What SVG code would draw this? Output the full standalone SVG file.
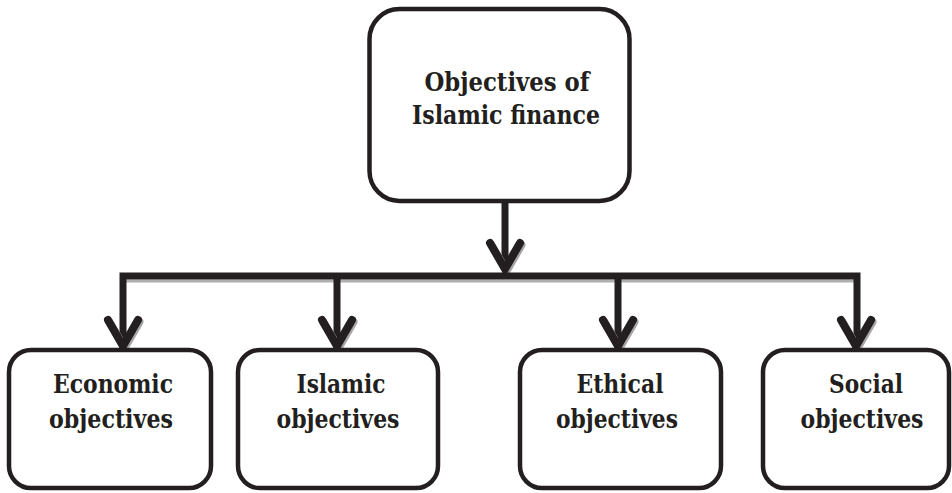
<svg xmlns="http://www.w3.org/2000/svg" width="952" height="493" viewBox="0 0 952 493">
<style>
.box{fill:#fff;stroke:#231f20;stroke-width:4.5}
.t{font-family:'DejaVu Serif',serif;font-weight:bold;font-size:26px;fill:#231f20;text-anchor:middle}
.ln{fill:none;stroke:#231f20;stroke-width:7}
.ch{fill:none;stroke:#231f20;stroke-width:8;stroke-linecap:round;stroke-linejoin:miter}
.sh{fill:none;stroke:#a7a5a6;stroke-width:8;stroke-linecap:round}
.shl{fill:none;stroke:#b0aeaf;stroke-width:3}
</style>
<rect width="952" height="493" fill="#fff"/>
<g id="connectors">
  <line class="shl" x1="125" y1="281" x2="855" y2="281"/>
  <line class="ln" x1="505" y1="203" x2="505" y2="270"/>
  <polyline class="sh" points="491.5,245 506.5,271 521.5,245"/>
  <polyline class="ch" points="490,243 505,269 520,243"/>
  <polyline class="ln" points="123,348 123,276 857,276 857,348"/>
  <line class="ln" x1="337" y1="276" x2="337" y2="348"/>
  <line class="ln" x1="618" y1="276" x2="618" y2="348"/>
  <polyline class="sh" points="109.5,322 124.5,348 139.5,322"/>
  <polyline class="ch" points="108,320 123,346 138,320"/>
  <polyline class="sh" points="323.5,322 338.5,348 353.5,322"/>
  <polyline class="ch" points="322,320 337,346 352,320"/>
  <polyline class="sh" points="604.5,322 619.5,348 634.5,322"/>
  <polyline class="ch" points="603,320 618,346 633,320"/>
  <polyline class="sh" points="842.5,322 857.5,348 872.5,322"/>
  <polyline class="ch" points="841,320 856,346 871,320"/>
</g>
<g id="root">
  <rect class="box" x="369.5" y="9" width="260" height="192" rx="30"/>
  <text class="t" x="507" y="91" textLength="165" lengthAdjust="spacingAndGlyphs">Objectives of</text>
  <text class="t" x="506" y="124" textLength="188" lengthAdjust="spacingAndGlyphs">Islamic finance</text>
</g>
<g id="economic">
  <rect class="box" x="9" y="350" width="202" height="138" rx="22"/>
  <text class="t" x="113" y="393" textLength="120" lengthAdjust="spacingAndGlyphs">Economic</text>
  <text class="t" x="111" y="428" textLength="124" lengthAdjust="spacingAndGlyphs">objectives</text>
</g>
<g id="islamic">
  <rect class="box" x="238" y="350" width="200" height="138" rx="22"/>
  <text class="t" x="341" y="393" textLength="89" lengthAdjust="spacingAndGlyphs">Islamic</text>
  <text class="t" x="338" y="428" textLength="123" lengthAdjust="spacingAndGlyphs">objectives</text>
</g>
<g id="ethical">
  <rect class="box" x="520" y="350" width="201" height="138" rx="22"/>
  <text class="t" x="620" y="393" textLength="87" lengthAdjust="spacingAndGlyphs">Ethical</text>
  <text class="t" x="617" y="428" textLength="122" lengthAdjust="spacingAndGlyphs">objectives</text>
</g>
<g id="social">
  <rect class="box" x="763" y="350" width="186" height="138" rx="22"/>
  <text class="t" x="866" y="393" textLength="74" lengthAdjust="spacingAndGlyphs">Social</text>
  <text class="t" x="862" y="428" textLength="123" lengthAdjust="spacingAndGlyphs">objectives</text>
</g>
</svg>
